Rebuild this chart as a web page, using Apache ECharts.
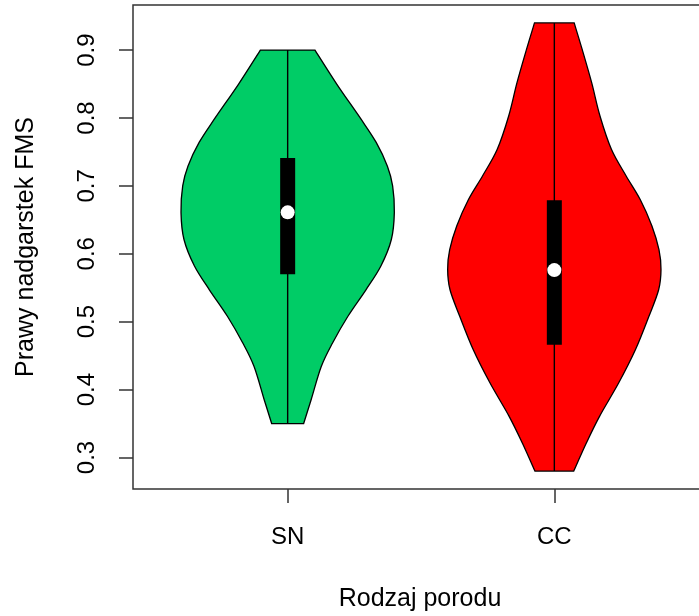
<!DOCTYPE html>
<html>
<head>
<meta charset="utf-8">
<script src="https://cdn.jsdelivr.net/npm/echarts@6/dist/echarts.min.js"></script>
<style>
  html, body { margin: 0; padding: 0; background: #fff; }
  #chart { width: 699px; height: 616px; }
</style>
</head>
<body>
<div id="chart"></div>
<script>
// Groups (birth type) and their summary statistics
const categories = ['SN', 'CC'];
const lowerWhisker = [0.35, 0.28];
const q1Values = [0.570, 0.466];
const medianValues = [0.661, 0.576];
const q3Values = [0.741, 0.679];
const upperWhisker = [0.90, 0.94];

// Kernel density outline: levels and relative density (max = 1)
const snLevels = [0.35, 0.385, 0.434, 0.469, 0.508, 0.547, 0.582, 0.621, 0.661, 0.700, 0.729, 0.764, 0.800, 0.850, 0.90];
const snDensity = [0.150, 0.220, 0.315, 0.422, 0.565, 0.734, 0.874, 0.972, 1.000, 0.984, 0.935, 0.830, 0.680, 0.460, 0.256];
const ccLevels = [0.28, 0.321, 0.361, 0.410, 0.459, 0.508, 0.547, 0.577, 0.606, 0.641, 0.680, 0.715, 0.754, 0.803, 0.852, 0.901, 0.94];
const ccDensity = [0.182, 0.299, 0.425, 0.604, 0.761, 0.887, 0.978, 1.000, 0.981, 0.915, 0.805, 0.672, 0.535, 0.428, 0.350, 0.261, 0.186];

// Axis ticks
const yTicks = [0.3, 0.4, 0.5, 0.6, 0.7, 0.8, 0.9];
const xTicks = [1, 2];

const levelsByGroup = [snLevels, ccLevels];
const densityByGroup = [snDensity, ccDensity];
const fillColors = ['#00CC66', '#FF0000'];

const FONT = "'Liberation Sans', Arial, Helvetica, sans-serif";
const HALF_WIDTH = 0.4;   // half-width of a violin at its densest level (x units)
const BOX_PX = 15;        // box width in pixels
const DOT_R = 7;          // median dot radius

// y range padded by 4% as in base graphics
const allVals = lowerWhisker.concat(upperWhisker);
const dMin = Math.min.apply(null, allVals), dMax = Math.max.apply(null, allVals);
const pad = (dMax - dMin) * 0.04;
const yMin = dMin - pad, yMax = dMax + pad;
const xMin = 0.5 - 0.04 * categories.length, xMax = categories.length + 0.5 + 0.04 * categories.length;

// Smooth curve through pixel points (Catmull-Rom rendered as cubic Beziers)
function curveThrough(pts) {
  let d = '';
  for (let i = 0; i < pts.length - 1; i++) {
    const p0 = pts[Math.max(i - 1, 0)], p1 = pts[i], p2 = pts[i + 1], p3 = pts[Math.min(i + 2, pts.length - 1)];
    const c1 = [p1[0] + (p2[0] - p0[0]) / 6, p1[1] + (p2[1] - p0[1]) / 6];
    const c2 = [p2[0] - (p3[0] - p1[0]) / 6, p2[1] - (p3[1] - p1[1]) / 6];
    d += ' C' + c1[0] + ',' + c1[1] + ' ' + c2[0] + ',' + c2[1] + ' ' + p2[0] + ',' + p2[1];
  }
  return d;
}

function renderViolin(params, api) {
  const g = api.value(0);
  const xc = g + 1;
  const lv = levelsByGroup[g], dn = densityByGroup[g];
  const right = lv.map((v, k) => api.coord([xc + HALF_WIDTH * dn[k], v]));
  const left = lv.map((v, k) => api.coord([xc - HALF_WIDTH * dn[k], v])).reverse();
  let path = 'M' + right[0][0] + ',' + right[0][1] + curveThrough(right);
  path += ' L' + left[0][0] + ',' + left[0][1] + curveThrough(left) + ' Z';

  const lo = api.coord([xc, lowerWhisker[g]]);
  const hi = api.coord([xc, upperWhisker[g]]);
  const b1 = api.coord([xc, q1Values[g]]);
  const b3 = api.coord([xc, q3Values[g]]);
  const md = api.coord([xc, medianValues[g]]);

  return {
    type: 'group',
    children: [
      { type: 'path', shape: { pathData: path },
        style: { fill: fillColors[g], stroke: '#000', lineWidth: 1.3 } },
      { type: 'line', shape: { x1: lo[0], y1: lo[1], x2: hi[0], y2: hi[1] },
        style: { stroke: '#000', lineWidth: 1.4 } },
      { type: 'rect', shape: { x: b3[0] - BOX_PX / 2, y: b3[1], width: BOX_PX, height: b1[1] - b3[1] },
        style: { fill: '#000' } },
      { type: 'circle', shape: { cx: md[0], cy: md[1], r: DOT_R },
        style: { fill: '#fff' } }
    ]
  };
}

const chart = echarts.init(document.getElementById('chart'), null, { renderer: 'canvas' });
chart.setOption({
  animation: false,
  backgroundColor: '#fff',
  grid: {
    left: 133, top: 5, width: 576, height: 484,
    outerBoundsMode: 'none', containLabel: false,
    show: true, borderColor: '#333', borderWidth: 1.5, backgroundColor: 'transparent'
  },
  xAxis: {
    type: 'value', min: xMin, max: xMax,
    axisLine: { show: false },
    splitLine: { show: false },
    axisTick: { show: true, length: 14, customValues: xTicks, lineStyle: { color: '#333', width: 1.5 } },
    axisLabel: {
      customValues: xTicks, margin: 36,
      formatter: v => categories[Math.round(v) - 1] || '',
      fontSize: 24, fontFamily: FONT, color: '#000'
    }
  },
  yAxis: {
    type: 'value', min: yMin, max: yMax,
    axisLine: { show: false },
    splitLine: { show: false },
    axisTick: { show: true, length: 14, customValues: yTicks, lineStyle: { color: '#333', width: 1.5 } },
    axisLabel: {
      customValues: yTicks, margin: 34, rotate: 90,
      formatter: v => v.toFixed(1),
      fontSize: 24, fontFamily: FONT, color: '#000'
    }
  },
  graphic: [
    { type: 'text', x: 26, y: 247, rotation: Math.PI / 2,
      style: { text: 'Prawy nadgarstek FMS', fontSize: 25, fontFamily: FONT, fill: '#000',
               align: 'center', verticalAlign: 'middle' } },
    { type: 'text', x: 420, y: 599,
      style: { text: 'Rodzaj porodu', fontSize: 25, fontFamily: FONT, fill: '#000',
               align: 'center', verticalAlign: 'middle' } }
  ],
  series: [{
    type: 'custom',
    clip: false,
    renderItem: renderViolin,
    encode: { x: 0, y: 1 },
    data: categories.map((c, i) => [i, medianValues[i]])
  }]
});
</script>
</body>
</html>
